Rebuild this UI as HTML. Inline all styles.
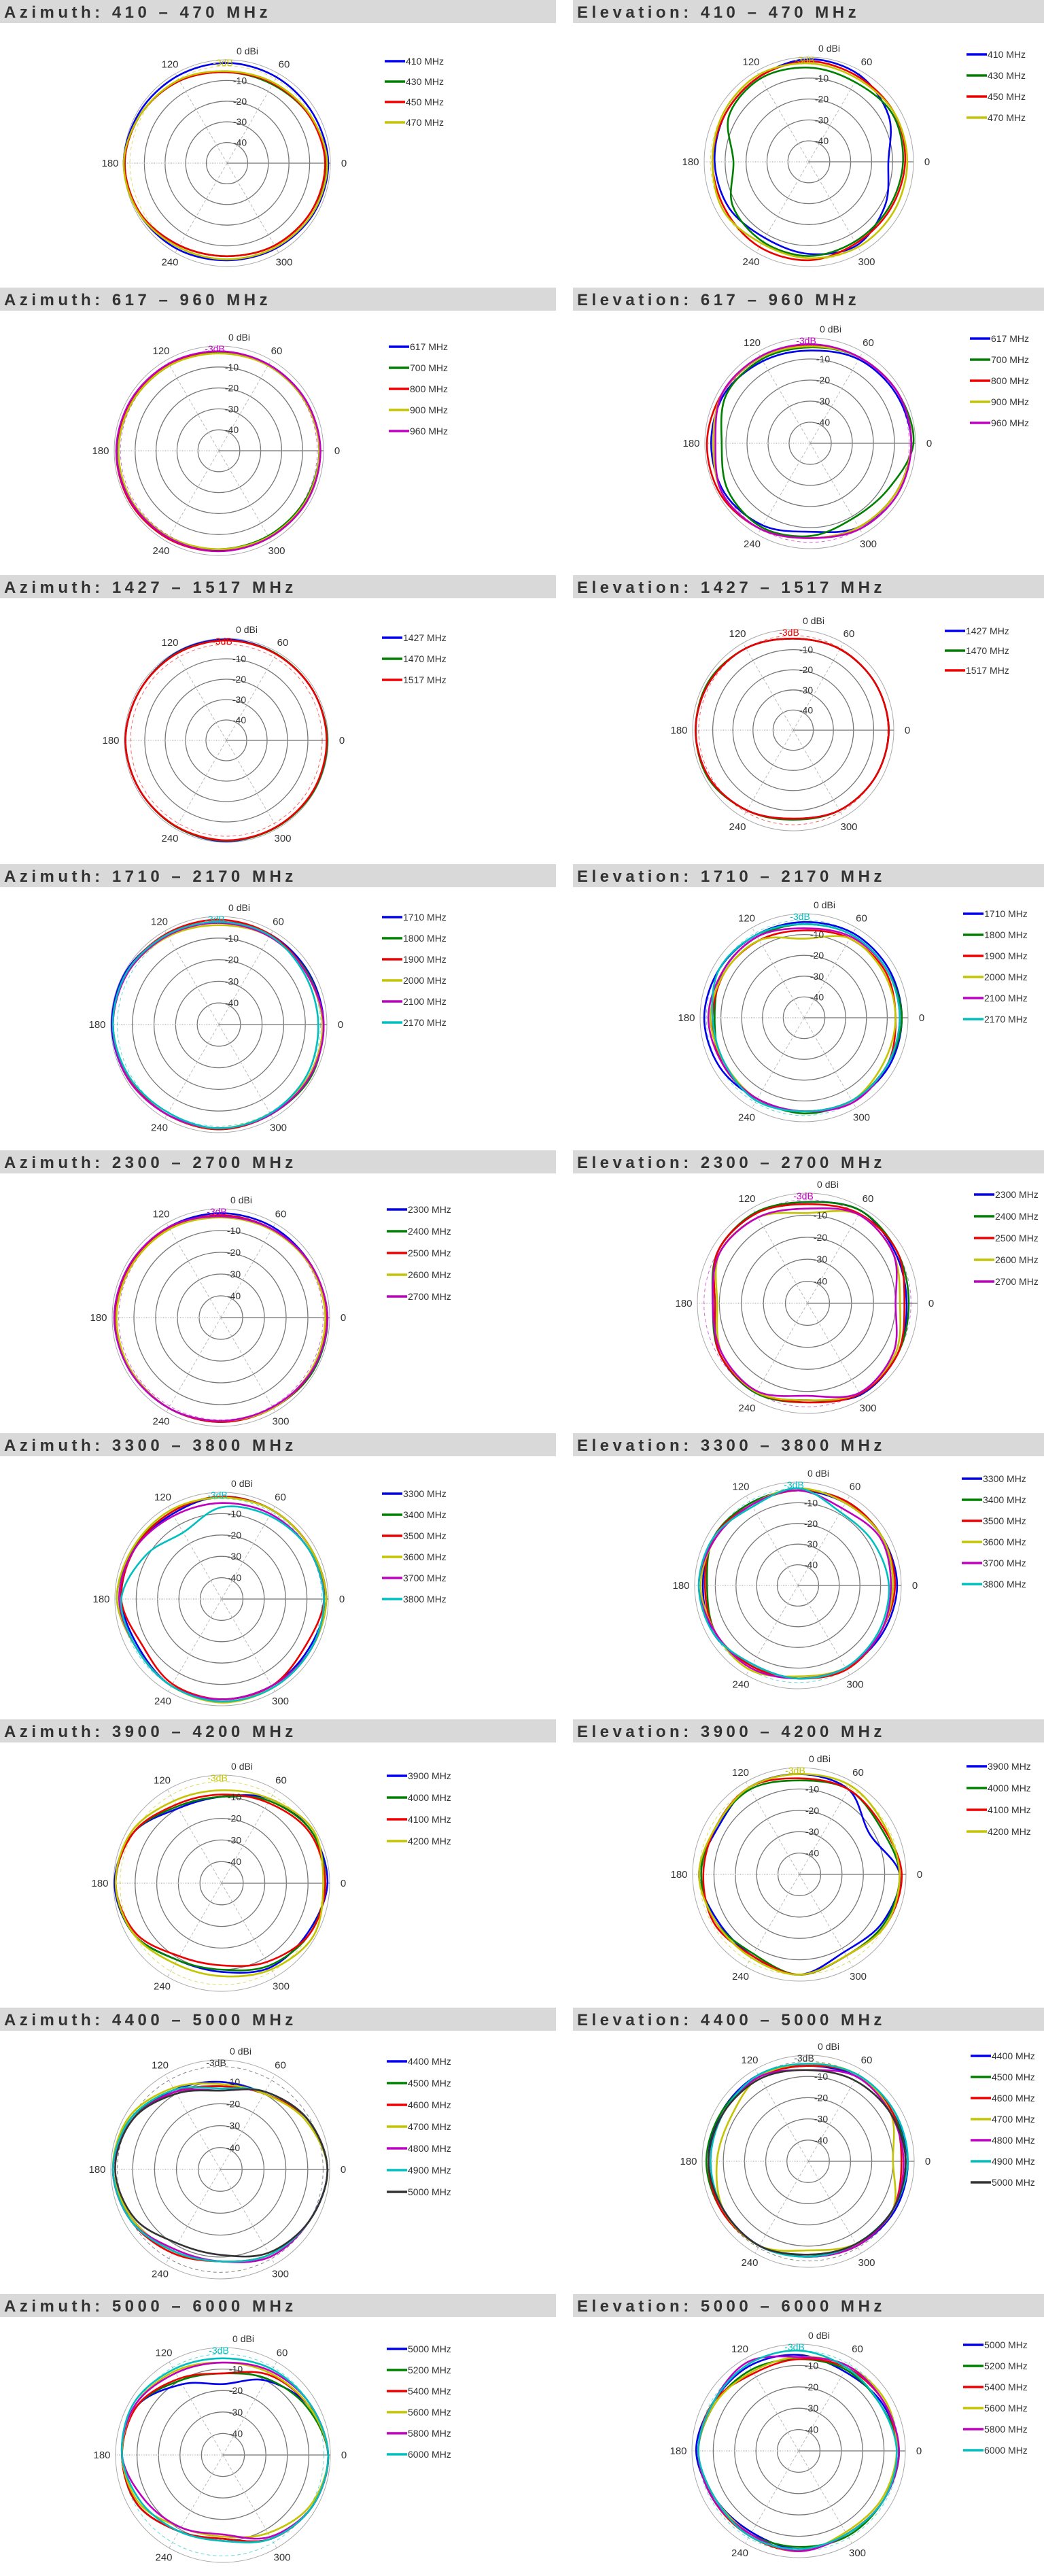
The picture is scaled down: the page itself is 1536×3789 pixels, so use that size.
<!DOCTYPE html>
<html><head><meta charset="utf-8"><title>Antenna radiation patterns</title>
<style>
html,body{margin:0;padding:0;background:#fff;}
body{width:1536px;height:3789px;overflow:hidden;}
svg{display:block;}
.hdr{font-family:"Liberation Sans",sans-serif;font-weight:bold;font-size:24px;letter-spacing:5.5px;fill:#333;}
.lbl{font-family:"Liberation Sans Narrow","Liberation Sans",sans-serif;font-size:14px;fill:#333;}
.leg{font-family:"Liberation Sans Narrow","Liberation Sans",sans-serif;font-size:14px;fill:#333;}
</style></head>
<body>
<svg id="page" width="1536" height="3789" viewBox="0 0 1536 3789" xmlns="http://www.w3.org/2000/svg"></svg>
<script>
// ---------- DATA (gain in dBi at 0,30,...,330 degrees) ----------
const az1Freqs=["410 MHz","430 MHz","450 MHz","470 MHz"];
const az1Gains=[[-1,-2,-2,-1.5,-1.5,-1,0,-1,-2,-3,-2.5,-1.5],[-2,-4,-6,-6,-4,-2,-0.5,-1.5,-4,-5,-4,-3],[-2.5,-4,-5.5,-6,-4,-2,-0.5,-1.5,-4,-5,-4,-3],[-1.5,-3.5,-5,-5.5,-3.5,-2,0,-1,-3,-3.5,-3,-2]];
const el1Freqs=["410 MHz","430 MHz","450 MHz","470 MHz"];
const el1Gains=[[-12,-6,-2,-1,-3,-4,-5,-6,-8,-6,-4,-8],[-5,-4,-6,-5,-4,-6,-14,-8,-6,-5,-6,-6],[-4,-3,-3,-2,-3,-4,-4,-4,-3,-3,-5,-5],[-3,-3,-4,-3,-2,-3,-4,-3,-5,-4,-3,-3]];
const az2Freqs=["617 MHz","700 MHz","800 MHz","900 MHz","960 MHz"];
const az2Gains=[[-2,-2,-2.5,-3,-2.5,-2,-1.5,-1.5,-2,-2.5,-2.5,-2],[-2,-2.5,-3,-3,-3,-2.5,-2,-2,-2.5,-3,-3,-2.5],[-1.5,-2,-2.5,-2.5,-2.5,-2,-1,-1,-1.5,-2,-2,-1.5],[-2,-2.5,-3,-3.5,-3,-2.5,-2,-2,-2.5,-3,-2.5,-2],[-1.5,-2,-2.5,-2.5,-2,-1.5,-1,-1.5,-2,-2,-2,-1.5]];
const el2Freqs=["617 MHz","700 MHz","800 MHz","900 MHz","960 MHz"];
const el2Gains=[[-2,-3,-4,-6,-5,-3,-3,-3,-5,-8,-4,-3],[-1,-2,-3,-4.5,-4,-4,-8,-5,-4,-6,-9,-7],[-2,-2,-3,-3.5,-3,-2,-1,-1,-3,-5,-4,-3],[-2,-2,-3,-4,-3,-2,-4,-2,-3,-5,-4,-3],[-2,-2,-3,-3,-2.5,-2,-5,-2,-3,-5,-3,-2]];
const az3Freqs=["1427 MHz","1470 MHz","1517 MHz"];
const az3Gains=[[-0.5,-1,-1,-0.5,-0.5,-1,-0.5,-1,-1,-0.5,-1,-0.5],[-0.5,-1,-1,-1,-0.8,-1,-0.5,-1,-1,-0.8,-0.8,-0.5],[-0.8,-1,-1.2,-1,-1,-1,-0.5,-1,-1.2,-1,-1,-0.8]];
const el3Freqs=["1427 MHz","1470 MHz","1517 MHz"];
const el3Gains=[[-2.5,-3,-3.5,-4.5,-3,-2,-1.5,-2,-4,-6,-4,-3],[-2.5,-3,-3.5,-4.5,-3,-1.5,-1.5,-1.5,-4,-5.5,-4,-3],[-2.5,-3,-3.5,-4.5,-3,-2,-1.5,-2,-4,-6,-4,-3]];
const az4Freqs=["1710 MHz","1800 MHz","1900 MHz","2000 MHz","2100 MHz","2170 MHz"];
const az4Gains=[[-1.5,-2,-2,-2.5,-2,-0.5,-0.5,-1,-2,-2,-2,-1.5],[-2,-2.5,-3,-3,-2,-1,-1,-1.5,-2,-1.5,-2,-1],[-2,-3,-2,-1.5,-1.5,-1,-1,-1.5,-2,-1.5,-2,-2],[-2,-3,-3,-4,-3,-1.5,-1,-1,-2,-2,-2.5,-2],[-1.5,-3,-3,-3,-2.5,-1.5,-1,-1,-2,-2,-2,-1.5],[-4,-4,-2.5,-2.5,-2,-1,-1,-2,-3,-2,-2.5,-3]];
const el4Freqs=["1710 MHz","1800 MHz","1900 MHz","2000 MHz","2100 MHz","2170 MHz"];
const el4Gains=[[-3,-3,-3,-4,-4,-3,-2,-3,-5,-5,-4,-3],[-3,-4,-4,-5,-5,-5,-7,-5,-5,-4,-4,-4],[-6,-5,-6,-8,-7,-6,-6,-5,-5,-5,-4,-4],[-6,-6,-6,-12,-7,-6,-5,-6,-5,-5,-4,-6],[-4,-4,-5,-7,-5,-5,-4,-5,-5,-5,-3,-4],[-4,-4,-4,-5,-4,-3,-6,-6,-4,-5,-4,-4]];
const az5Freqs=["2300 MHz","2400 MHz","2500 MHz","2600 MHz","2700 MHz"];
const az5Gains=[[-1,-2,-2,-2,-2,-1.5,-1,-1.5,-2,-2,-2,-1],[-1,-2,-3,-3,-3,-2,-1,-2,-2,-2,-2,-1],[-1.5,-2,-3,-3,-2.5,-2,-1.5,-2,-2,-2,-2,-1.5],[-2,-2.5,-3.5,-4,-3,-2.5,-2,-2,-2,-2.5,-2,-2],[-1,-2,-3,-3.5,-2,-1.5,-1,-1.5,-2,-2.5,-2.5,-1.5]];
const el5Freqs=["2300 MHz","2400 MHz","2500 MHz","2600 MHz","2700 MHz"];
const el5Gains=[[-5,-4,-1.5,-4,-3,-3,-8,-4,-3,-6,-2,-3],[-4,-3,-1.5,-4,-2.5,-3,-7,-4,-3,-5,-2.5,-3],[-6,-3,-3,-5,-3,-3,-8,-4,-3.5,-5,-2.5,-3],[-8,-5,-3.5,-9,-5,-4,-9,-5,-3.5,-6,-3,-4],[-10,-5,-3.5,-7,-5,-4,-7,-5,-4,-8,-3,-5]];
const az6Freqs=["3300 MHz","3400 MHz","3500 MHz","3600 MHz","3700 MHz","3800 MHz"];
const az6Gains=[[-1,-2,-2,-2,-4,-3,-3,-5,-3,-3,-3,-3],[-1,-2,-2,-2,-3,-2.5,-1,-4,-3,-3,-3,-2],[-2,-2,-2,-2,-3,-3,-3,-7,-4,-3,-3,-5],[-1,-2,-2,-2.5,-2,-2,-1,-4,-3,-1.5,-2,-2],[-2,-3,-4,-5,-5,-3,-2,-4,-3,-3,-3,-2],[-2,-3,-5,-7,-14,-9,-3,-4,-3,-2,-2,-2]];
const el6Freqs=["3300 MHz","3400 MHz","3500 MHz","3600 MHz","3700 MHz","3800 MHz"];
const el6Gains=[[-2,-3,-4,-4,-4,-3,-4,-3,-6,-5,-4,-3],[-4,-3,-3,-4,-4,-3,-6,-4,-5,-5,-4,-4],[-3,-3,-3,-4,-5,-3,-5,-4,-5,-5,-3,-4],[-4,-3,-4,-3,-5,-4,-3,-4,-3,-6,-4,-4],[-5,-4,-7,-4,-5,-4,-2,-4,-4,-5,-4,-4],[-6,-8,-9,-3,-6,-3,-2,-3,-6,-5,-4,-5]];
const az7Freqs=["3900 MHz","4000 MHz","4100 MHz","4200 MHz"];
const az7Gains=[[-1,-2,-5,-10,-10,-3,-0.5,-3,-9,-9,-5,-4],[-2,-2,-6,-10,-9,-3,-1,-3,-9,-10,-6,-3],[-2,-3,-7,-9,-8,-3,-1,-4,-11,-12,-8,-3],[-3,-1,-5,-7,-6,-2,-1,-3,-7,-7,-4,-1]];
const el7Freqs=["3900 MHz","4000 MHz","4100 MHz","4200 MHz"];
const el7Gains=[[-3,-12,-4,-3,-3,-6,-3,-6,-6,-3,-8,-5],[-3,-6,-4,-6,-4,-5,-4,-5,-7,-3,-6,-4],[-2,-5,-4,-5,-3,-5,-5,-4,-6,-3,-6,-3],[-3,-4,-2,-3,-3,-5,-3,-5,-5,-3,-6,-3]];
const az8Freqs=["4400 MHz","4500 MHz","4600 MHz","4700 MHz","4800 MHz","4900 MHz","5000 MHz"];
const az8Gains=[[-1,-4,-10,-10,-8,-3,-1,-4,-7,-8,-5,-3],[-1,-4,-10,-12,-9,-3,-1,-3,-7,-8,-5,-3],[-1,-4,-10,-12,-9,-4,-1,-3,-6,-8,-5,-3],[-1,-5,-10,-11,-7,-2,-1,-4,-7,-8,-5,-3],[-1,-4,-9,-14,-9,-4,-1,-3,-8,-8,-4,-3],[-1,-4,-9,-13,-8,-3,-1,-3,-7,-8,-5,-3],[-1,-4,-9,-14,-10,-4,-2,-5,-11,-11,-6,-3]];
const el8Freqs=["4400 MHz","4500 MHz","4600 MHz","4700 MHz","4800 MHz","4900 MHz","5000 MHz"];
const el8Gains=[[-3,-4,-4,-5,-3,-3,-3,-4,-4,-5,-4,-3],[-4,-4,-3,-5,-4,-3,-2,-3,-4,-6,-4,-4],[-6,-4,-3,-5,-4,-4,-3,-3,-4,-5,-4,-4],[-10,-5,-3,-4,-4,-8,-7,-4,-4,-8,-5,-4],[-5,-5,-4,-7,-4,-4,-3,-4,-4,-5,-4,-4],[-3,-3,-3,-4,-3,-4,-4,-4,-4,-5,-5,-4],[-4,-5,-6,-7,-5,-4,-3,-4,-4,-6,-5,-4]];
const az9Freqs=["5000 MHz","5200 MHz","5400 MHz","5600 MHz","5800 MHz","6000 MHz"];
const az9Gains=[[-1,-4,-10,-17,-12,-4,-3,-4,-9,-11,-5,-2],[-1,-5,-9,-12,-10,-4,-3,-4,-9,-10,-5,-2],[-1,-4,-7,-12,-9,-4,-3,-4,-9,-11,-5,-2],[-1,-4,-6,-7,-5,-3,-3,-5,-11,-12,-8,-3],[-1,-3,-5,-7,-6,-3,-3,-8,-11,-13,-6,-2],[-1,-3,-4,-5,-4,-2,-3,-6,-9,-10,-5,-2]];
const el9Freqs=["5000 MHz","5200 MHz","5400 MHz","5600 MHz","5800 MHz","6000 MHz"];
const el9Gains=[[-3,-5,-7,-5,-4,-4,-2,-5,-6,-4,-5,-4],[-3,-6,-6,-7,-6,-5,-3,-4,-5,-5,-4,-4],[-4,-4,-5,-7,-8,-4,-3,-4,-4,-3,-5,-4],[-4,-3,-4,-6,-7,-5,-3,-5,-5,-3,-6,-5],[-3,-4,-4,-6,-2,-4,-3,-4,-5,-3,-5,-4],[-4,-6,-5,-3,-3,-4,-3,-5,-4,-4,-5,-4]];
const angleTicks=[0,60,120,180,240,300];
const ringTicks=[-10,-20,-30,-40];

// ---------- LAYOUT ----------
const rowTops=[0,423,846,1271,1692,2108,2529,2953,3374];
const titles=[["Azimuth: 410 – 470 MHz","Elevation: 410 – 470 MHz"],["Azimuth: 617 – 960 MHz","Elevation: 617 – 960 MHz"],["Azimuth: 1427 – 1517 MHz","Elevation: 1427 – 1517 MHz"],["Azimuth: 1710 – 2170 MHz","Elevation: 1710 – 2170 MHz"],["Azimuth: 2300 – 2700 MHz","Elevation: 2300 – 2700 MHz"],["Azimuth: 3300 – 3800 MHz","Elevation: 3300 – 3800 MHz"],["Azimuth: 3900 – 4200 MHz","Elevation: 3900 – 4200 MHz"],["Azimuth: 4400 – 5000 MHz","Elevation: 4400 – 5000 MHz"],["Azimuth: 5000 – 6000 MHz","Elevation: 5000 – 6000 MHz"]];
const charts=[
 [az1Freqs,az1Gains,334,240,152,566,90,30],[el1Freqs,el1Gains,1190,238,154,1422,80,31],
 [az2Freqs,az2Gains,322,240,154,572,87,31],[el2Freqs,el2Gains,1192,229,155,1427,75,31],
 [az3Freqs,az3Gains,333,243,150,562,92,31],[el3Freqs,el3Gains,1167,228,148,1390,82,29],
 [az4Freqs,az4Gains,322,236,159,562,78,31],[el4Freqs,el4Gains,1183,226,153,1417,73,31],
 [az5Freqs,az5Gains,325,246,160,569,87,32],[el5Freqs,el5Gains,1188,225,162,1433,65,32],
 [az6Freqs,az6Gains,326,244,157,562,89,31],[el6Freqs,el6Gains,1174,224,152,1415,67,31],
 [az7Freqs,az7Gains,326,241,159,569,83,32],[el7Freqs,el7Gains,1176,228,157,1422,69,32],
 [az8Freqs,az8Gains,324,238,161,569,79,32],[el8Freqs,el8Gains,1189,226,156,1428,71,31],
 [az9Freqs,az9Gains,328,237,158,569,81,31],[el9Freqs,el9Gains,1175,231,157,1417,75,31]];
const palette={"blue":"#0000ee","green":"#008000","red":"#ee0000","yellow":"#c4c400","magenta":"#c000c0","cyan":"#00bfbf","black":"#333333"};
const colorOrder=["blue","green","red","yellow","magenta","cyan","black"];

const NS="http://www.w3.org/2000/svg";
const svg=document.getElementById('page');
function mk(tag,attrs,parent){const e=document.createElementNS(NS,tag);for(const k in attrs)e.setAttribute(k,attrs[k]);(parent||svg).appendChild(e);return e;}
function rScale(g,R){return R*(g+50)/50;}
function pt(cx,cy,r,deg){const a=deg*Math.PI/180;return [cx+r*Math.cos(a),cy-r*Math.sin(a)];}
function closedPath(pts){
 const n=pts.length;let d="M"+pts[0][0].toFixed(1)+","+pts[0][1].toFixed(1);
 for(let i=0;i<n;i++){const p0=pts[(i-1+n)%n],p1=pts[i],p2=pts[(i+1)%n],p3=pts[(i+2)%n];
  const c1=[p1[0]+(p2[0]-p0[0])/6,p1[1]+(p2[1]-p0[1])/6],c2=[p2[0]-(p3[0]-p1[0])/6,p2[1]-(p3[1]-p1[1])/6];
  d+="C"+c1[0].toFixed(1)+","+c1[1].toFixed(1)+" "+c2[0].toFixed(1)+","+c2[1].toFixed(1)+" "+p2[0].toFixed(1)+","+p2[1].toFixed(1);}
 return d+"Z";}

// headers
rowTops.forEach((top,ri)=>{
 for(let c=0;c<2;c++){
  const x0=c===0?0:843,w=c===0?818:693;
  const g=mk('g',{});
  
  
  mk('rect',{x:x0,y:top,width:w,height:34,fill:'#d9d9d9'},g);
  const t=mk('text',{x:x0+6,y:top+26,class:'hdr'},g);
  
  
  t.textContent=titles[ri][c];
 }
});

charts.forEach((ch,ci)=>{
 const [freqs,gains,cx,cyOff,R,lx,ly,lp]=ch;
 const top=rowTops[Math.floor(ci/2)];const cy=top+cyOff;
 const g=mk('g',{});
 
 
 for(let k=1;k<=5;k++){const c=mk('circle',{cx:cx,cy:cy,r:R*k/5,fill:'none',stroke:k===5?'#aaa':'#777','stroke-width':k===5?1:1.3},g);
  }
 [60,120,240,300].forEach(a=>{const p=pt(cx,cy,R,a);const l=mk('line',{x1:cx,y1:cy,x2:p[0],y2:p[1],stroke:'#bbb','stroke-width':1,'stroke-dasharray':'4,3'},g);
  });
 const h1=mk('line',{x1:cx,y1:cy,x2:cx+R,y2:cy,stroke:'#888','stroke-width':1.5},g);
 
 const h2=mk('line',{x1:cx-R,y1:cy,x2:cx,y2:cy,stroke:'#bbb','stroke-width':1.5,'stroke-dasharray':'1,1.5'},g);
 
 const lastCol=palette[colorOrder[freqs.length-1]];
 const d3=mk('circle',{cx:cx,cy:cy,r:rScale(-3,R),fill:'none',stroke:lastCol,'stroke-width':1,'stroke-dasharray':'5,4',opacity:0.6},g);
 
 gains.forEach((vals,si)=>{
  const pts=vals.map((v,i)=>pt(cx,cy,rScale(v,R),i*360/vals.length));
  const p=mk('path',{d:closedPath(pts),fill:'none',stroke:palette[colorOrder[si]],'stroke-width':2.6,'stroke-linejoin':'round'},g);
  
  
 });
 ringTicks.forEach(v=>{const t=mk('text',{x:cx+19,y:cy-rScale(v,R)+5,'text-anchor':'middle',class:'lbl'},g);
  t.textContent=String(v);});
 const z=mk('text',{x:cx+30,y:cy-R-8,'text-anchor':'middle',class:'lbl'},g);
 z.textContent='0 dBi';
 const m3=mk('text',{x:cx-6,y:cy-R+9,'text-anchor':'middle',class:'lbl',style:'fill:'+lastCol},g);
 m3.textContent='-3dB';
 angleTicks.forEach(a=>{const off=(a===0||a===180)?20:16;const p=pt(cx,cy,R+off,a);
  const t=mk('text',{x:p[0],y:p[1]+5,'text-anchor':'middle',class:'lbl',style:'font-size:15px'},g);
  t.textContent=String(a);});
 const lg=mk('g',{},g);
 
 freqs.forEach((f,si)=>{const y=top+ly+si*lp;
  const e=mk('g',{},lg);
  
  mk('line',{x1:lx,y1:y,x2:lx+30,y2:y,stroke:palette[colorOrder[si]],'stroke-width':3.5},e);
  const t=mk('text',{x:lx+31,y:y+5,class:'leg'},e);t.textContent=f;});
});
</script>
</body></html>
